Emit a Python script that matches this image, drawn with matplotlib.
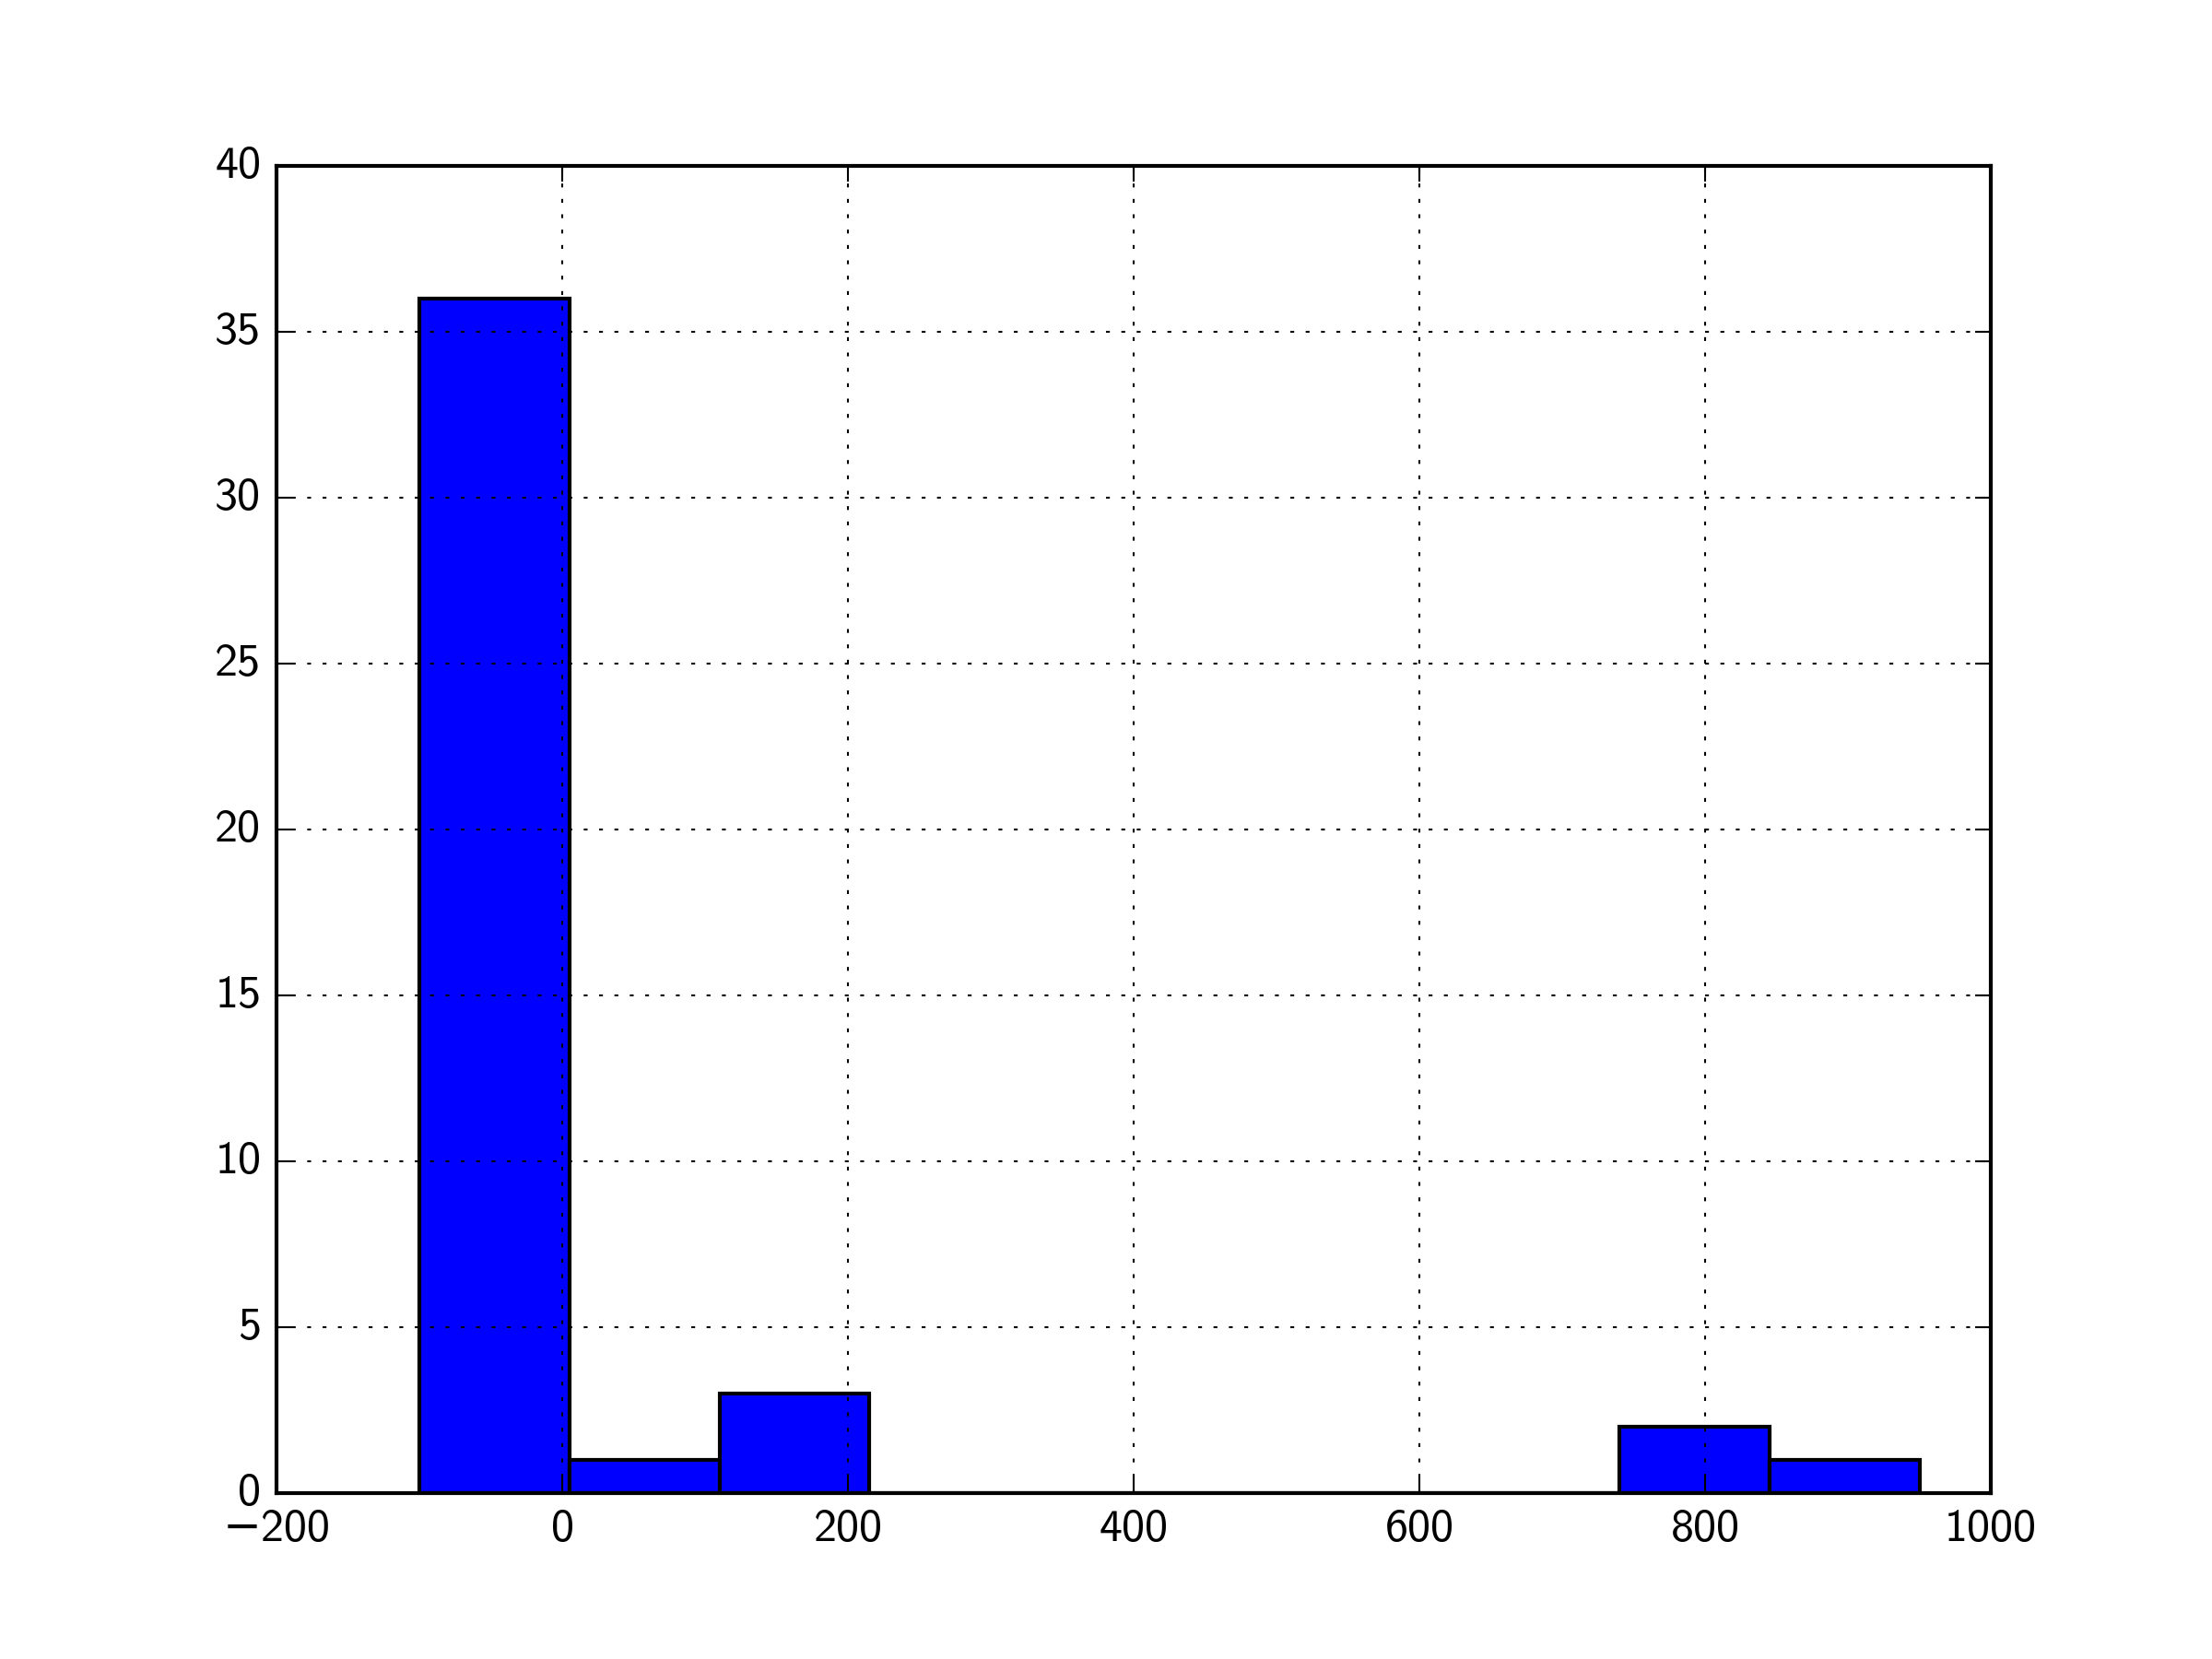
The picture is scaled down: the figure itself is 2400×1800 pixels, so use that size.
import numpy as np
import matplotlib
matplotlib.use('Agg')
import matplotlib.pyplot as plt

# histogram: bin edges and counts
bin_edges = [-100, 5, 110, 215, 320, 425, 530, 635, 740, 845, 950]
counts = [36, 1, 3, 0, 0, 0, 0, 0, 2, 1]

plt.style.use('classic')
# computer modern sans, minus sign falls back to DejaVu
plt.rcParams['font.family'] = ['cmss10', 'DejaVu Sans']
plt.rcParams['axes.unicode_minus'] = True
plt.rcParams['axes.formatter.use_mathtext'] = False
plt.rcParams['font.size'] = 12

fig = plt.figure(figsize=(8, 6), dpi=300, facecolor='white')
ax = fig.add_axes([0.125, 0.1, 0.775, 0.8])

edges = np.array(bin_edges)
ax.bar(edges[:-1], counts, width=np.diff(edges), align='edge',
       color='#0000ff', edgecolor='black', linewidth=1.0)

ax.set_xlim(-200, 1000)
ax.set_ylim(0, 40)
ax.set_xticks(np.arange(-200, 1001, 200))
ax.set_yticks(np.arange(0, 41, 5))
ax.grid(True, linestyle=':', color='black', linewidth=0.5)
ax.tick_params(direction='in', top=True, right=True, labelsize=12)

fig.savefig('out.png', dpi=300, facecolor='white')
